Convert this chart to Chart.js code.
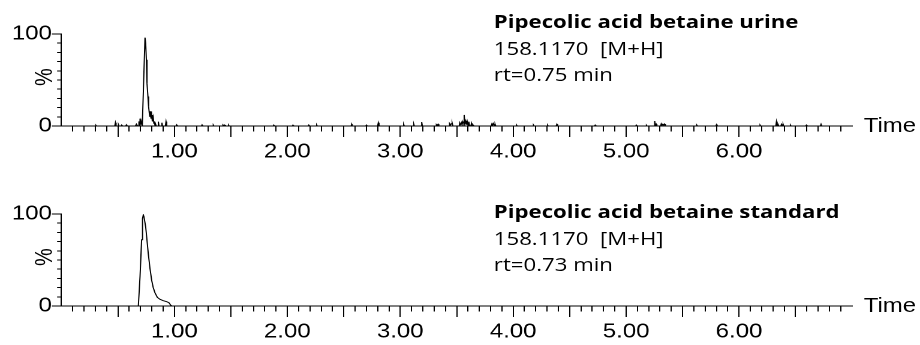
<!DOCTYPE html>
<html><head><meta charset="utf-8">
<script src="https://cdn.jsdelivr.net/npm/chart.js@4.4.1/dist/chart.umd.min.js"></script>
<style>
html,body{margin:0;padding:0;background:#fff;overflow:hidden;width:920px;height:345px}
#stage{position:absolute;left:0;top:0;width:767px;height:345px;transform:scaleX(1.19948);transform-origin:0 0}
.panel{position:absolute;left:0;width:767px;height:165px}
.note{position:absolute;left:411.7px;font-family:'Open Sans',sans-serif;font-size:18.5px;line-height:26.5px;color:#000;white-space:pre}
.note b{font-weight:700}
.time{position:absolute;left:720px;font-family:'Liberation Sans',Arial,sans-serif;font-size:20px;line-height:20px;color:#000}
.pct{position:absolute;left:26.2px;width:21px;height:20px;font-family:'Liberation Sans',Arial,sans-serif;font-size:20px;line-height:20px;text-align:center;transform:rotate(-90deg);color:#000}
</style></head>
<body>
<div id="stage">
  <div class="panel" style="top:0"><canvas id="c1"></canvas></div>
  <div class="panel" style="top:180px"><canvas id="c2"></canvas></div>
  <div class="note" style="top:8px"><b>Pipecolic acid betaine urine</b>
158.1170  [M+H]
rt=0.75 min</div>
  <div class="note" style="top:198px"><b>Pipecolic acid betaine standard</b>
158.1170  [M+H]
rt=0.73 min</div>
  <div class="time" style="top:114.8px">Time</div>
  <div class="time" style="top:294.8px">Time</div>
  <div class="pct" style="top:67px">%</div>
  <div class="pct" style="top:247px">%</div>
</div>
<script>
// ---- data (retention time in min, relative intensity in %) ----
const urineRt = [
  0.000, 0.300, 0.305, 0.310, 0.472, 0.478, 0.484, 0.500, 0.505, 0.510, 0.528, 0.533, 0.538,
  0.570, 0.575, 0.580, 0.655, 0.664, 0.672, 0.680, 0.686, 0.690, 0.696, 0.702, 0.708, 0.716,
  0.740, 0.746, 0.752, 0.755, 0.761, 0.766, 0.772, 0.778, 0.783, 0.787, 0.793, 0.799, 0.805,
  0.813, 0.818, 0.822, 0.828, 0.834, 0.840, 0.852, 0.858, 0.864, 0.885, 0.890, 0.895, 0.920,
  0.926, 0.932, 1.015, 1.020, 1.025, 1.240, 1.245, 1.250, 1.340, 1.345, 1.350, 1.425, 1.430,
  1.437, 1.445, 1.452, 1.475, 1.480, 1.485, 1.875, 1.880, 1.885, 2.045, 2.050, 2.055, 2.185,
  2.190, 2.195, 2.255, 2.260, 2.265, 2.565, 2.570, 2.575, 2.695, 2.700, 2.705, 2.800, 2.806,
  2.812, 2.818, 3.025, 3.030, 3.036, 3.115, 3.120, 3.125, 3.185, 3.190, 3.196, 3.315, 3.320,
  3.327, 3.335, 3.342, 3.430, 3.437, 3.444, 3.452, 3.460, 3.466, 3.522, 3.527, 3.537, 3.548,
  3.555, 3.560, 3.566, 3.572, 3.580, 3.587, 3.593, 3.600, 3.607, 3.614, 3.625, 3.631, 3.637,
  3.645, 3.650, 3.655, 3.805, 3.812, 3.818, 3.825, 3.832, 3.840, 3.846, 4.025, 4.030, 4.035,
  4.175, 4.180, 4.185, 4.300, 4.305, 4.310, 4.380, 4.387, 4.393, 4.720, 4.726, 4.732, 5.085,
  5.090, 5.095, 5.175, 5.180, 5.185, 5.247, 5.253, 5.259, 5.266, 5.272, 5.305, 5.311, 5.318,
  5.326, 5.333, 5.341, 5.348, 5.620, 5.626, 5.632, 5.795, 5.800, 5.806, 6.180, 6.186, 6.192,
  6.325, 6.331, 6.337, 6.345, 6.352, 6.370, 6.376, 6.383, 6.390, 6.396, 6.450, 6.455, 6.460,
  6.590, 6.596, 6.602, 6.720, 6.726, 6.732, 7.000
];
const urinePct = [
  0, 0, 0.8, 0, 0, 3.6, 0, 0, 1.5, 0, 0, 1, 0,
  0, 1.2, 0, 0, 2, 0.5, 0, 5, 1, 8, 2, 4, 0,
  96, 90, 72, 54, 46, 32, 21, 14, 10, 16, 8, 12, 5,
  9.5, 3, 5, 1, 2, 0, 0, 4.7, 0, 0, 3.6, 0, 0,
  4.7, 0, 0, 1.2, 0, 0, 1.2, 0, 0, 1, 0, 0, 1.2,
  0.3, 1.1, 0, 0, 1, 0, 0, 1, 0, 0, 1, 0, 0,
  1, 0, 0, 1.2, 0, 0, 2, 0, 0, 1, 0, 0, 3.6,
  1, 0, 0, 2, 0, 0, 2, 0, 0, 4.3, 0, 0, 1.5,
  0.5, 2, 0, 0, 2.5, 1, 2.5, 3, 0, 0, 3.6, 1, 5,
  1.5, 4, 12, 2, 5.4, 1.5, 5, 1, 4.7, 0.5, 0, 3, 0,
  1, 0, 0, 0, 2.5, 1, 2.8, 1, 2, 0, 0, 1, 0,
  0, 1, 0, 0, 1, 0, 0, 2, 0, 0, 1, 0, 0,
  1, 0, 0, 0.8, 0, 0, 5.4, 0.5, 2, 0, 0, 2.5, 1,
  2, 1, 2.2, 0, 0, 1, 0, 0, 1.5, 0, 0, 1, 0,
  0, 4.7, 0.5, 2, 0, 0, 2, 0.8, 2, 0, 0, 1, 0,
  0, 1, 0, 0, 2, 0, 0
];
const standardRt  = [0.000, 0.681, 0.696, 0.710, 0.718, 0.725, 0.731, 0.746, 0.755, 0.769, 0.784, 0.799, 0.813, 0.828, 0.849, 0.873, 0.902, 0.932, 0.952, 0.967, 0.979, 7.000];
const standardPct = [0,     0,     32,    72,    95,    99,    97,    86,    75,    57,    41,    28,    20,    14.5,  9.4,   7.2,   5.8,   4.7,   3.6,   1,     0,     0];

const xRange = [0, 7];
const xTickLabels = ['1.00', '2.00', '3.00', '4.00', '5.00', '6.00'];
const yRange = [0, 100];
const yTickLabels = ['0', '100'];

// ---- drawing ----
const tickFont = { family: "'Liberation Sans', Arial, sans-serif", size: 20, lineHeight: 1 };

function isWhole(v) { return Math.abs(v - Math.round(v)) < 1e-9; }
function isHalf(v) { return Math.abs(v * 2 - Math.round(v * 2)) < 1e-9; }

function makeChart(id, rt, pct) {
  const pts = rt.map((t, i) => ({ x: t, y: pct[i] }));
  return new Chart(document.getElementById(id), {
    type: 'line',
    data: { datasets: [{ data: pts, borderColor: '#000', borderWidth: 1, pointRadius: 0, tension: 0, fill: false }] },
    options: {
      animation: false,
      responsive: true,
      maintainAspectRatio: false,
      devicePixelRatio: 2,
      events: [],
      layout: { padding: { left: 0, top: 34, right: 56.7, bottom: 0 } },
      plugins: { legend: { display: false }, tooltip: { enabled: false } },
      scales: {
        x: {
          type: 'linear', min: xRange[0], max: xRange[1],
          afterFit: s => { s.height = 39; },
          border: { display: true, color: '#000', width: 1 },
          grid: {
            display: true, drawOnChartArea: false, drawTicks: true, tickLength: 11,
            tickWidth: 1,
            tickColor: c => (c.tick && (c.tick.value <= xRange[0] || c.tick.value >= xRange[1])) ? 'rgba(0,0,0,0)' : '#000',
            tickBorderDash: c => (c.tick && isHalf(c.tick.value)) ? [] : [5, 100]
          },
          ticks: {
            stepSize: 0.1, autoSkip: false, maxRotation: 0, minRotation: 0, padding: 5,
            color: '#000', font: tickFont,
            callback: v => {
              if (!isWhole(v)) return '';
              const s = Number(v).toFixed(2);
              return xTickLabels.includes(s) ? s : '';
            }
          }
        },
        y: {
          type: 'linear', min: yRange[0], max: yRange[1],
          afterFit: s => { s.width = 51.2; },
          border: { display: true, color: '#000', width: 1 },
          grid: {
            display: true, drawOnChartArea: false, drawTicks: true, tickLength: 8,
            tickWidth: 1, tickColor: '#000',
            tickBorderDash: c => (c.tick && (c.tick.value === yRange[0] || c.tick.value === yRange[1])) ? [] : [0, 4.4, 3.6, 100]
          },
          ticks: {
            stepSize: 10, autoSkip: false, padding: 0, color: '#000', font: tickFont,
            callback: v => yTickLabels.includes(String(v)) ? String(v) : ''
          }
        }
      }
    }
  });
}

makeChart('c1', urineRt, urinePct);
makeChart('c2', standardRt, standardPct);
</script>
</body></html>
